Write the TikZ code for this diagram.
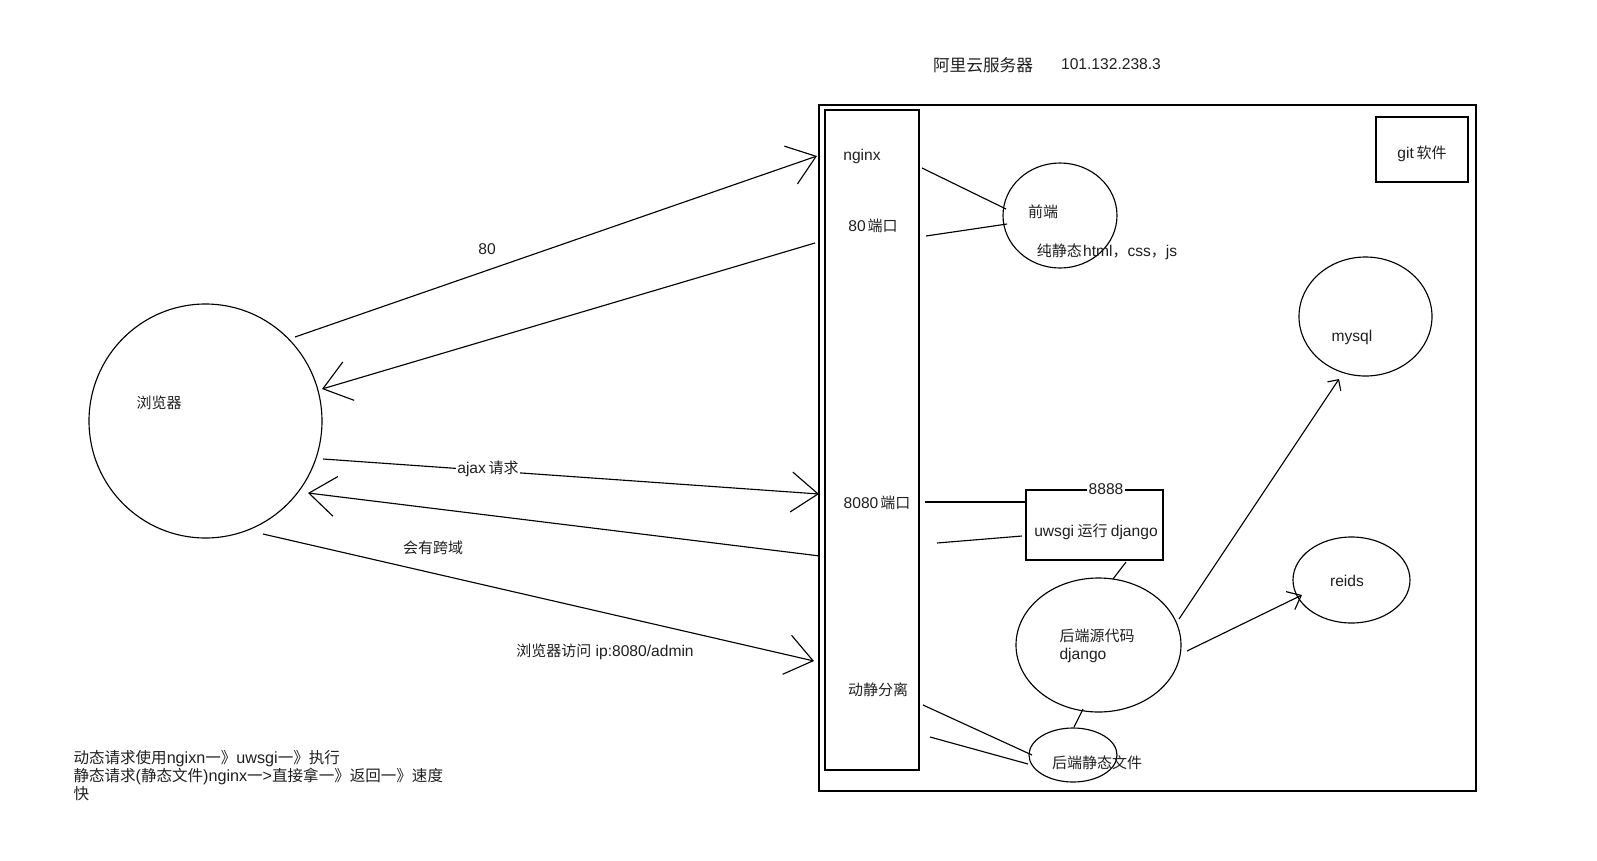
\documentclass[tikz,border=0pt]{standalone}
\usepackage{fontspec}
\setmainfont{Noto Sans CJK SC}
\newfontfamily\latf[Scale=1.04]{Liberation Sans}
\newcommand\LT[1]{{\latf #1}}
\usetikzlibrary{arrows.meta,shapes.geometric}
\begin{document}
\begin{tikzpicture}[x=0.75pt,y=-0.75pt,line width=0.85pt,
  txt/.style={inner sep=0pt,text=black!88,font=\fontsize{11.25pt}{13.5pt}\selectfont},
  ell/.style={draw,ellipse,inner sep=0pt},
  box/.style={draw,rectangle,inner sep=0pt,line width=1pt},
  big/.style={-{Straight Barb[length=20pt,width=30pt]}},
  small/.style={-{Straight Barb[length=9pt,width=15pt]}},
  tiny/.style={-{Straight Barb[length=6pt,width=12pt]}},
  lbl/.style={txt,fill=white,inner sep=1pt}]
\useasboundingbox (0,0) rectangle (1597,861);

% shapes
\node[box,minimum width=492.75pt,minimum height=514.5pt] (server) at (1147.5,448) {};
\node[box,minimum width=70.5pt,minimum height=495pt] (nginxbox) at (872,440) {};
\node[box,minimum width=69pt,minimum height=48.75pt] (git) at (1422,149.5) {};
\node[box,minimum width=102.75pt,minimum height=52.5pt] (uwsgi) at (1094.5,525) {};
\node[ell,minimum width=174.75pt,minimum height=175.5pt] (browser) at (205.5,421) {};
\node[ell,minimum width=85.5pt,minimum height=78.75pt] (front) at (1060,215.5) {};
\node[ell,minimum width=99.75pt,minimum height=89.25pt] (mysql) at (1365.5,316.5) {};
\node[ell,minimum width=87.75pt,minimum height=64.5pt] (redis) at (1351.5,580) {};
\node[ell,minimum width=123.75pt,minimum height=100.5pt] (django) at (1098.5,645) {};
\node[ell,minimum width=66pt,minimum height=40.5pt] (static) at (1073,755) {};

% connector end points
\coordinate (a1s) at (295,337);  \coordinate (a1e) at (817,156);
\coordinate (a2s) at (815,243);  \coordinate (a2e) at (322,389);
\coordinate (a3s) at (323,459);  \coordinate (a3e) at (819,494);
\coordinate (a4s) at (820,556);  \coordinate (a4e) at (308,493);
\coordinate (a5s) at (263,534);  \coordinate (a5e) at (814,661);
\coordinate (f1s) at (922,168);  \coordinate (f1e) at (1006,209);
\coordinate (f2s) at (926,236);  \coordinate (f2e) at (1007,224);
\coordinate (u1s) at (925,502);  \coordinate (u1e) at (1026,502);
\coordinate (u2s) at (1022,536); \coordinate (u2e) at (937,543);
\coordinate (ud1) at (1126,562); \coordinate (ud2) at (1113,579);
\coordinate (ds1) at (1083,709); \coordinate (ds2) at (1074,727);
\coordinate (s1s) at (923,705);  \coordinate (s1e) at (1032,755);
\coordinate (s2s) at (930,737);  \coordinate (s2e) at (1028,764);
\coordinate (m1s) at (1179,619); \coordinate (m1e) at (1339,379);
\coordinate (r1s) at (1187,651); \coordinate (r1e) at (1302,595);

% connectors
\draw[big] (a1s) -- (a1e);
\draw[big] (a2s) -- (a2e);
\draw[big] (a3s) -- (a3e);
\draw[big] (a4s) -- (a4e);
\draw[big] (a5s) -- (a5e);
\draw (f1s) -- (f1e);
\draw (f2s) -- (f2e);
\draw (u1s) -- (u1e);
\draw (u2s) -- (u2e);
\draw (ud1) -- (ud2);
\draw (ds1) -- (ds2);
\draw (s1s) -- (s1e);
\draw (s2s) -- (s2e);
\draw[tiny] (m1s) -- (m1e);
\draw[small] (r1s) -- (r1e);

% texts
\node[txt,font=\fontsize{12.5pt}{14pt}\selectfont] (title) at (983,65) {阿里云服务器};
\node[txt] (ip) at (1111,64) {\LT{101.132.238.3}};
\node[txt] (tnginx) at (862,156) {\LT{nginx}};
\node[txt] (t80) at (873,226) {\LT{80}\hspace{1.5pt}端口};
\node[txt] (t8080) at (877,503) {\LT{8080}\hspace{1.5pt}端口};
\node[txt] (tdyn) at (878,690) {动静分离};
\node[txt] (tgit) at (1422,154) {\LT{git}\hspace{2pt}软件};
\node[txt] (tfront) at (1043,212) {前端};
\node[txt] (tpure) at (1107,252) {纯静态\hspace{1pt}\LT{html}，\LT{css}，\LT{js}};
\node[txt] (tmysql) at (1352,337) {\LT{mysql}};
\node[txt] (tredis) at (1347,581) {\LT{reids}};
\node[lbl] (t8888) at (1106,489) {\LT{8888}};
\node[txt] (tuwsgi) at (1096,532) {\LT{uwsgi}\hspace{2.5pt}运行\hspace{2.5pt}\LT{django}};
\node[txt,align=left,anchor=west] (tdjango) at (1059,646) {后端源代码\\\LT{django}};
\node[txt] (tstatic) at (1097,763) {后端静态文件};
\node[txt] (tbrowser) at (159,403) {浏览器};
\node[txt] (t80b) at (487,249) {\LT{80}};
\node[lbl] (tajax) at (488,469) {\LT{ajax}\hspace{2pt}请求};
\node[txt] (tcross) at (433,548) {会有跨域};
\node[txt] (tvisit) at (605,652) {浏览器访问\LT{ ip:8080/admin}};
\node[txt,align=left,anchor=north west,font=\fontsize{11.65pt}{11.25pt}\selectfont] (note) at (73,750)
  {动态请求使用\LT{ngixn}一》\LT{uwsgi}一》执行\\静态请求\LT{(}静态文件\LT{)nginx}一\LT{>}直接拿一》返回一》速度\\快};
\end{tikzpicture}
\end{document}
